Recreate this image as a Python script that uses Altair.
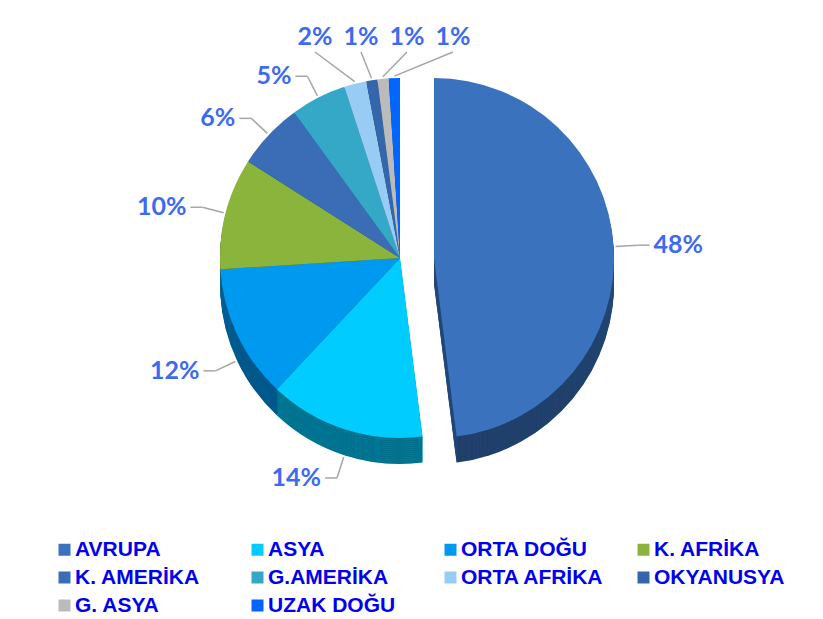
import math
import altair as alt
import pandas as pd

# ---- data ----
regions = ["AVRUPA", "ASYA", "ORTA DOĞU", "K. AFRİKA", "K. AMERİKA",
           "G.AMERİKA", "ORTA AFRİKA", "OKYANUSYA", "G. ASYA", "UZAK DOĞU"]
shares = [48, 14, 12, 10, 6, 5, 2, 1, 1, 1]
colors = ["#3A72BE", "#00CCFF", "#0099F0", "#8BB43C", "#3A6DB5",
          "#35A8C8", "#99CCF5", "#3366AA", "#BBBBBB", "#0066FF"]

df = pd.DataFrame({"region": regions, "share": shares, "order": list(range(len(regions)))})

# ---- layout constants (pixels, plot origin) ----
CX, CY, R, DEPTH, EXPLODE = 392, 250, 180, 26, 34
LABEL_COLOR = "#3D6AF2"

theta_scale = alt.Scale(domain=[0, 100], range=[0, 2 * math.pi])
color_enc = alt.Color(
    "region:N",
    scale=alt.Scale(domain=regions, range=colors),
    legend=alt.Legend(
        title=None, orient="none", legendX=46, legendY=531, columns=4,
        direction="horizontal",
        symbolType="square", symbolSize=144, symbolStrokeWidth=0,
        labelFont="Liberation Sans", labelFontWeight="bold", labelFontSize=21,
        labelColor="#0000EE", labelOffset=0, labelLimit=400,
        gridAlign="all", columnPadding=28, rowPadding=6,
    ),
    sort=regions,
)

base = (
    alt.Chart(df)
    .transform_window(cum="sum(share)", sort=[alt.SortField("order")], frame=[None, 0])
    .transform_calculate(
        start="datum.cum - datum.share",
        mid="datum.cum - datum.share / 2",
        px=f"datum.region == 'AVRUPA' ? {CX + EXPLODE} : {CX}",
    )
)

layers = []
# side walls (stacked copies shifted downward, darkened)
for d in range(DEPTH, 0, -2):
    side = base.transform_calculate(py=f"{CY} + {d}")
    enc = dict(
        x=alt.X("px:Q", scale=None),
        y=alt.Y("py:Q", scale=None),
        theta=alt.Theta("start:Q", scale=theta_scale),
        theta2=alt.Theta2("cum:Q"),
    )
    layers.append(side.mark_arc(radius=R).encode(color=color_enc, **enc))
    layers.append(side.mark_arc(radius=R, color="black", opacity=0.45).encode(**enc))

# top face
top = base.transform_calculate(py=f"{CY}").mark_arc(radius=R).encode(
    x=alt.X("px:Q", scale=None),
    y=alt.Y("py:Q", scale=None),
    theta=alt.Theta("start:Q", scale=theta_scale),
    theta2=alt.Theta2("cum:Q"),
    color=color_enc,
)
layers.append(top)

# label geometry
lab = base.transform_calculate(
    a="datum.mid * PI / 50",
    lift="datum.mid > 25 && datum.mid < 75 ? " + str(DEPTH) + " : 0",
).transform_calculate(
    ex=f"datum.px + {R + 2} * sin(datum.a)",
    ey=f"{CY} - {R + 2} * cos(datum.a) + datum.lift",
    kx=f"datum.order >= 6 ? {CX - 85} + 46 * (datum.order - 6) : datum.px + {R + 24} * sin(datum.a)",
    ky=f"datum.order >= 6 ? {CY - R - 26} : {CY} - {R + 24} * cos(datum.a) + datum.lift",
    side="sin(datum.a) >= 0 ? 1 : -1",
).transform_calculate(
    hx="datum.order >= 6 ? datum.kx : datum.kx + 12 * datum.side",
    hy="datum.ky",
    tx="datum.hx + 4 * datum.side",
    txt="datum.share + '%'",
)

rule1 = lab.mark_rule(color="#A6A6A6", strokeWidth=1.5).encode(
    x=alt.X("ex:Q", scale=None), y=alt.Y("ey:Q", scale=None),
    x2="kx:Q", y2="ky:Q",
)
rule2 = lab.transform_filter("datum.order < 6").mark_rule(color="#A6A6A6", strokeWidth=1.5).encode(
    x=alt.X("kx:Q", scale=None), y=alt.Y("ky:Q", scale=None),
    x2="hx:Q", y2="hy:Q",
)
text_kw = dict(font="Lato", fontWeight="bold", fontSize=25, color=LABEL_COLOR)
t_right = lab.transform_filter("datum.order < 6 && datum.side > 0").mark_text(
    align="left", baseline="middle", **text_kw).encode(
    x=alt.X("tx:Q", scale=None), y=alt.Y("hy:Q", scale=None), text="txt:N")
t_left = lab.transform_filter("datum.order < 6 && datum.side < 0").mark_text(
    align="right", baseline="middle", **text_kw).encode(
    x=alt.X("tx:Q", scale=None), y=alt.Y("hy:Q", scale=None), text="txt:N")
t_top = lab.transform_filter("datum.order >= 6").mark_text(
    align="center", baseline="bottom", dy=-2, **text_kw).encode(
    x=alt.X("kx:Q", scale=None), y=alt.Y("ky:Q", scale=None), text="txt:N")

layers += [rule1, rule2, t_right, t_left, t_top]

chart = (
    alt.layer(*layers)
    .properties(width=807, height=520, padding=0)
    .configure_view(stroke=None)
)

chart.save("out.html", embed_options={"renderer": "svg", "actions": False})
